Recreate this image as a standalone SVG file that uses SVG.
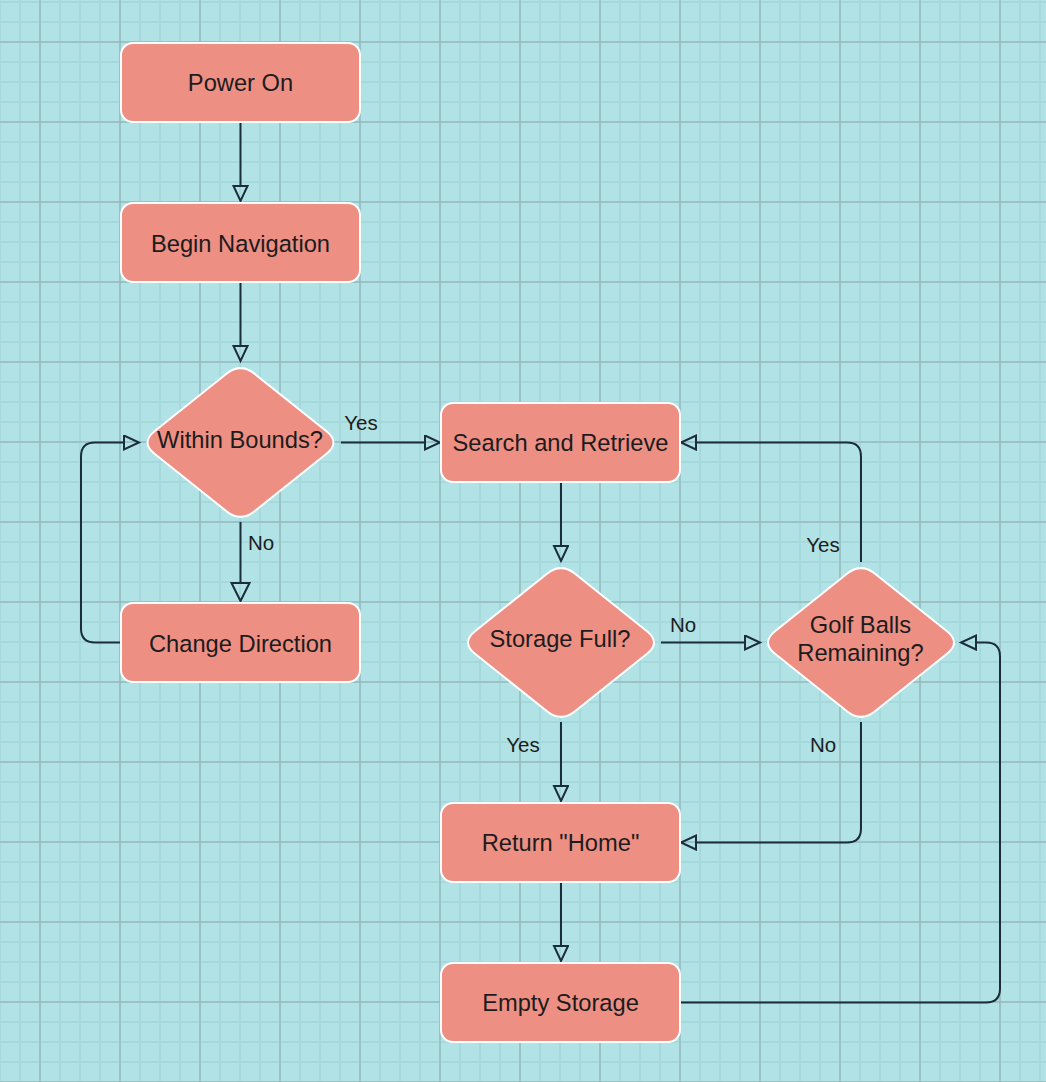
<svg xmlns="http://www.w3.org/2000/svg" width="1046" height="1082" viewBox="0 0 1046 1082">
<style>
.bg{fill:#b1e3e6}
.node rect,.node use{fill:#ee8f84;stroke:#ffffff;stroke-width:2}
.t{font-family:"Liberation Sans",Arial,Helvetica,sans-serif;font-size:23.7px;fill:#1c1c1c;text-anchor:middle}
.lbl{font-family:"Liberation Sans",Arial,Helvetica,sans-serif;font-size:20.5px;fill:#1c1c1c;text-anchor:middle}
.conn path{fill:none;stroke:#1b2c3a;stroke-width:2}
</style>
<defs>
<pattern id="minor" patternUnits="userSpaceOnUse" x="-1" y="1" width="20" height="20">
<path d="M1 0V20M0 1H20" fill="none" stroke="#a6d9dc" stroke-width="2"/>
</pattern>
<pattern id="major" patternUnits="userSpaceOnUse" x="39.5" y="41.5" width="80" height="80">
<path d="M0.5 0V80M0 0.5H80" fill="none" stroke="#8fabae" stroke-width="1"/>
</pattern>
<path id="dia" d="M-14,-68.75 Q0,-80 14,-68.75 L86,-11.25 Q100,0 86,11.25 L14,68.75 Q0,80 -14,68.75 L-86,11.25 Q-100,0 -86,-11.25 Z"/>
<marker id="ah" markerUnits="userSpaceOnUse" markerWidth="20" markerHeight="20" refX="1" refY="8" orient="auto" viewBox="0 0 20 20">
<path d="M1,1 L16,8 L1,15 Z" fill="none" stroke="#1b2c3a" stroke-width="2"/>
</marker>
<marker id="ahb" markerUnits="userSpaceOnUse" markerWidth="24" markerHeight="24" refX="1" refY="10" orient="auto" viewBox="0 0 24 24">
<path d="M1,1 L19,10 L1,19 Z" fill="none" stroke="#1b2c3a" stroke-width="2"/>
</marker>
</defs>
<rect class="bg" x="0" y="0" width="1046" height="1082"/>
<rect x="0" y="0" width="1046" height="1082" fill="url(#minor)"/>
<rect x="0" y="0" width="1046" height="1082" fill="url(#major)"/>

<g id="connectors" class="conn">
<path d="M240.5,122 V186" marker-end="url(#ah)"/>
<path d="M240.5,283 V346" marker-end="url(#ah)"/>
<path d="M341,442.5 H425" marker-end="url(#ah)"/>
<path d="M240.5,522 V583" marker-end="url(#ahb)"/>
<path d="M121,642.5 H95 Q81,642.5 81,628.5 V456.5 Q81,442.5 95,442.5 H124" marker-end="url(#ah)"/>
<path d="M561,483 V546" marker-end="url(#ah)"/>
<path d="M661,642.5 H745" marker-end="url(#ah)"/>
<path d="M561,722 V786" marker-end="url(#ah)"/>
<path d="M861,562 V456.5 Q861,442.5 847,442.5 H696" marker-end="url(#ah)"/>
<path d="M861,722 V828.5 Q861,842.5 847,842.5 H696" marker-end="url(#ah)"/>
<path d="M561,883 V946" marker-end="url(#ah)"/>
<path d="M681,1002.5 H986 Q1000,1002.5 1000,988.5 V656.5 Q1000,642.5 986,642.5 H976" marker-end="url(#ah)"/>
<text class="lbl" x="361" y="430">Yes</text>
<text class="lbl" x="261" y="550">No</text>
<text class="lbl" x="683" y="632">No</text>
<text class="lbl" x="523" y="752">Yes</text>
<text class="lbl" x="823" y="552">Yes</text>
<text class="lbl" x="823" y="752">No</text>
</g>

<g id="power-on" class="node">
<rect x="121" y="43" width="239" height="79" rx="12"/>
<text class="t" x="240.5" y="91">Power On</text>
</g>
<g id="begin-navigation" class="node">
<rect x="121" y="203" width="239" height="79" rx="12"/>
<text class="t" x="240.5" y="251.5">Begin Navigation</text>
</g>
<g id="within-bounds" class="node">
<use href="#dia" x="240.5" y="442.5"/>
<text class="t" x="240" y="448">Within Bounds?</text>
</g>
<g id="search-retrieve" class="node">
<rect x="441" y="403" width="239" height="79" rx="12"/>
<text class="t" x="560.5" y="451">Search and Retrieve</text>
</g>
<g id="change-direction" class="node">
<rect x="121" y="603" width="239" height="79" rx="12"/>
<text class="t" x="240.5" y="651.5">Change Direction</text>
</g>
<g id="storage-full" class="node">
<use href="#dia" x="561" y="642.5"/>
<text class="t" x="560" y="647">Storage Full?</text>
</g>
<g id="golf-balls" class="node">
<use href="#dia" x="861" y="642.5"/>
<text class="t" x="860.5" y="633">Golf Balls</text>
<text class="t" x="860.5" y="660.5">Remaining?</text>
</g>
<g id="return-home" class="node">
<rect x="441" y="803" width="239" height="79" rx="12"/>
<text class="t" x="560.5" y="851">Return "Home"</text>
</g>
<g id="empty-storage" class="node">
<rect x="441" y="963" width="239" height="79" rx="12"/>
<text class="t" x="560.5" y="1011">Empty Storage</text>
</g>
</svg>
